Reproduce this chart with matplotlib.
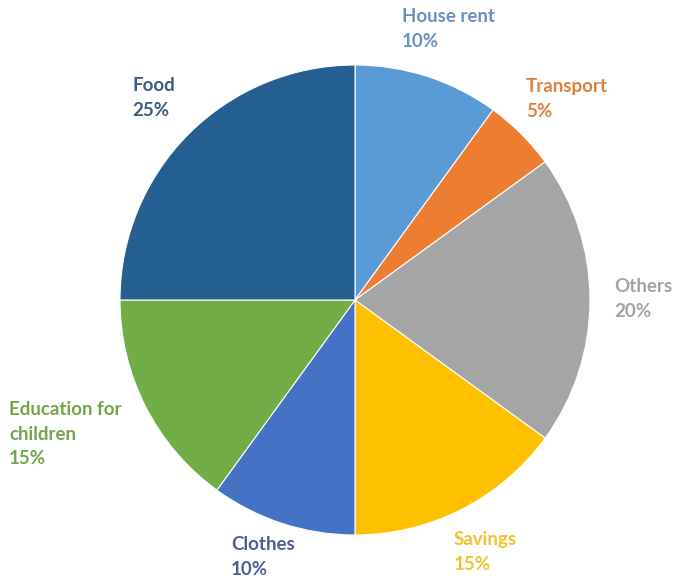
import matplotlib
matplotlib.use('Agg')
import matplotlib.pyplot as plt

# slices, clockwise from 12 o'clock
labels = ['House rent', 'Transport', 'Others', 'Savings', 'Clothes', 'Education for\nchildren', 'Food']
shares = [10, 5, 20, 15, 10, 15, 25]
colors = ['#5b9bd5', '#ed7d31', '#a5a5a5', '#ffc000', '#4472c4', '#70ad47', '#255e91']
text_colors = ['#6c8fbf', '#e0803c', '#a3a3a3', '#f2c12e', '#4d5f8f', '#73a64a', '#3f5a84']
# label anchor (left, top) in pixels of the 677x580 image
label_pos = [(402, 8), (526, 78), (614, 278), (454, 531), (231, 536), (9, 401), (132, 77)]

W, H = 677, 580
fig = plt.figure(figsize=(W / 100, H / 100), dpi=100)
ax = fig.add_axes([0, 0, 1, 1])

ax.pie(shares, colors=colors, startangle=90, counterclock=False,
       center=(355, H - 300), radius=235, frame=True,
       wedgeprops=dict(edgecolor='white', linewidth=0.8))
ax.set_xlim(0, W)
ax.set_ylim(0, H)
ax.axis('off')

for lab, v, c, (px, py) in zip(labels, shares, text_colors, label_pos):
    ax.text(px, H - py, f'{lab}\n{v}%', color=c, fontsize=13.5, fontweight='bold',
            family=['Lato', 'DejaVu Sans'], ha='left', va='top', linespacing=1.55)

fig.savefig('out.png', dpi=100)
